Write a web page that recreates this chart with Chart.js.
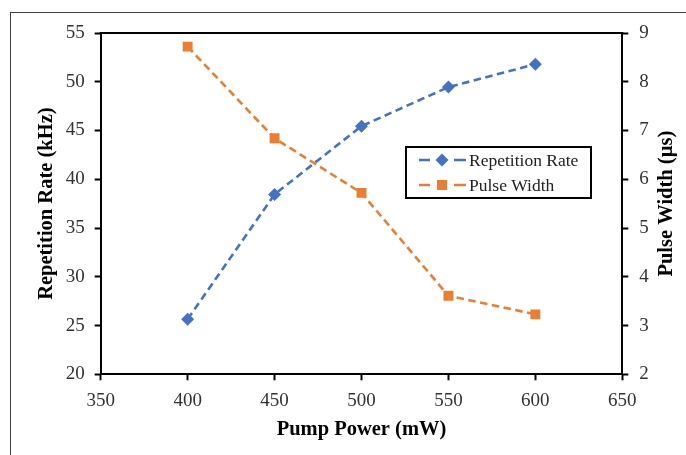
<!DOCTYPE html>
<html>
<head>
<meta charset="utf-8">
<script src="https://cdn.jsdelivr.net/npm/chart.js@4"></script>
<style>
  html, body { margin: 0; padding: 0; background: #fff; }
  #wrap { width: 686px; height: 455px; }
</style>
</head>
<body>
<div id="wrap"><canvas id="c" width="686" height="455"></canvas></div>
<script>
const pumpPower = [400, 450, 500, 550, 600];
const repRate = [25.65, 38.45, 45.45, 49.45, 51.8];
const pulseWidth = [8.72, 6.84, 5.72, 3.61, 3.23];
const xTicks = [350, 400, 450, 500, 550, 600, 650];

const serif = '"Liberation Serif", "Times New Roman", serif';
const blue = '#4472C4';
const orange = '#ED7D31';

// frame around whole figure + box round plot area
const framePlugin = {
  id: 'frame',
  beforeDraw(chart) {
    const ctx = chart.ctx;
    ctx.save();
    ctx.fillStyle = '#fff';
    ctx.fillRect(0, 0, chart.width, chart.height);
    ctx.strokeStyle = '#404040';
    ctx.lineWidth = 1;
    ctx.strokeRect(10.5, 12.5, 800, 600);
    ctx.restore();
  },
  afterDraw(chart) {
    const a = chart.chartArea;
    const ctx = chart.ctx;
    ctx.save();
    ctx.strokeStyle = '#000';
    ctx.lineWidth = 2;
    ctx.beginPath();
    ctx.moveTo(a.left - 1, a.top);
    ctx.lineTo(a.right + 1, a.top);
    ctx.stroke();
    // right axis title, reading upwards
    ctx.translate(666.7, (a.top + a.bottom) / 2);
    ctx.rotate(-Math.PI / 2);
    ctx.font = 'bold 20.5px ' + serif;
    ctx.fillStyle = '#000';
    ctx.textAlign = 'center';
    ctx.textBaseline = 'middle';
    ctx.fillText('Pulse Width (\u00b5s)', 0, 0);
    ctx.restore();
  }
};

// legend box inside the plot
const boxLegend = {
  id: 'boxLegend',
  afterDatasetsDraw(chart) {
    const ctx = chart.ctx;
    const x = 406, y = 147, w = 185, h = 51;
    ctx.save();
    ctx.fillStyle = '#fff';
    ctx.fillRect(x, y, w, h);
    ctx.strokeStyle = '#000';
    ctx.lineWidth = 2;
    ctx.strokeRect(x, y, w, h);
    chart.data.datasets.forEach((ds, i) => {
      const cy = y + 13 + i * 25;
      ctx.strokeStyle = ds.borderColor;
      ctx.lineWidth = 2.6;
      ctx.beginPath();
      ctx.moveTo(419, cy); ctx.lineTo(430, cy);
      ctx.moveTo(454, cy); ctx.lineTo(466, cy);
      ctx.stroke();
      ctx.fillStyle = ds.backgroundColor;
      ctx.beginPath();
      if (ds.pointStyle === 'rectRot') {
        ctx.moveTo(442, cy - 6.5); ctx.lineTo(448.5, cy); ctx.lineTo(442, cy + 6.5); ctx.lineTo(435.5, cy);
      } else {
        ctx.rect(437, cy - 5, 10, 10);
      }
      ctx.closePath();
      ctx.fill();
      ctx.fillStyle = '#222';
      ctx.font = '17.5px ' + serif;
      ctx.textAlign = 'left';
      ctx.textBaseline = 'middle';
      ctx.fillText(ds.label, 469, cy + 1);
    });
    ctx.restore();
  }
};

const tickFont = { family: serif, size: 19 };
const titleFont = { family: serif, size: 20.5, weight: 'bold' };

new Chart(document.getElementById('c'), {
  type: 'line',
  data: {
    datasets: [
      {
        label: 'Repetition Rate',
        data: pumpPower.map((p, i) => ({ x: p, y: repRate[i] })),
        yAxisID: 'y',
        borderColor: blue,
        backgroundColor: blue,
        borderWidth: 2.6,
        borderDash: [7.5, 4.5],
        pointStyle: 'rectRot',
        pointRadius: 6.5,
        pointBorderWidth: 0,
        tension: 0
      },
      {
        label: 'Pulse Width',
        data: pumpPower.map((p, i) => ({ x: p, y: pulseWidth[i] })),
        yAxisID: 'y1',
        borderColor: orange,
        backgroundColor: orange,
        borderWidth: 2.6,
        borderDash: [7.5, 4.5],
        pointStyle: 'rect',
        pointRadius: 7,
        pointBorderWidth: 0,
        tension: 0
      }
    ]
  },
  options: {
    responsive: false,
    animation: false,
    layout: { padding: { top: 33, left: 10, right: 0, bottom: 0 } },
    plugins: { legend: { display: false }, tooltip: { enabled: false } },
    scales: {
      x: {
        type: 'linear',
        min: 350, max: 650,
        afterBuildTicks: s => { s.ticks = xTicks.map(v => ({ value: v })); },
        afterFit: s => { s.height = 80.7; },
        grid: { drawOnChartArea: false, drawTicks: true, tickLength: 6, tickWidth: 2, color: '#000' },
        border: { display: true, color: '#000', width: 2 },
        ticks: { font: tickFont, color: '#333', padding: 9, maxRotation: 0 },
        title: { display: true, text: 'Pump Power (mW)', font: titleFont, color: '#000', padding: { bottom: 12.6 } }
      },
      y: {
        position: 'left',
        min: 20, max: 55,
        ticks: { stepSize: 5, font: tickFont, color: '#333', padding: 10 },
        afterFit: s => { s.width = 90.7; },
        grid: { drawOnChartArea: false, drawTicks: true, tickLength: 6, tickWidth: 2, color: '#000' },
        border: { display: true, color: '#000', width: 2 },
        title: { display: true, text: 'Repetition Rate (kHz)', font: titleFont, color: '#000', padding: { top: 24 } }
      },
      y1: {
        position: 'right',
        min: 2, max: 9,
        ticks: { stepSize: 1, font: tickFont, color: '#333', padding: 11 },
        afterFit: s => { s.width = 63.7; },
        grid: { drawOnChartArea: false, drawTicks: true, tickLength: 6, tickWidth: 2, color: '#000' },
        border: { display: true, color: '#000', width: 2 },
        title: { display: false }
      }
    }
  },
  plugins: [framePlugin, boxLegend]
});
</script>
</body>
</html>
